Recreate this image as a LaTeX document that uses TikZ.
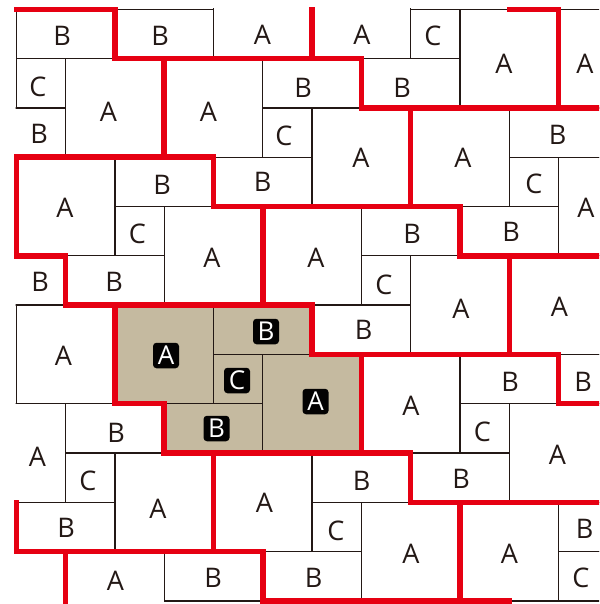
\documentclass[tikz,border=0pt]{standalone}
\usepackage{fontspec}
\setmainfont{Open Sans}
\definecolor{ink}{RGB}{35,24,21}
\definecolor{tkred}{RGB}{230,0,18}
\definecolor{tanfill}{RGB}{197,186,160}
\tikzset{
  cell/.style={draw=ink, line width=1.3pt},
  rline/.style={draw=tkred, line width=5.5pt, line cap=rect, line join=miter},
  lbl/.style={text=ink, inner sep=0pt, font=\fontsize{27}{27}\selectfont},
  tanlbl/.style={fill=black!92!ink, text=white, rounded corners=3.5pt, minimum width=26pt, minimum height=25.5pt, inner sep=0pt, font=\fontsize{26}{26}\selectfont}
}
\begin{document}
\begin{tikzpicture}[x=1pt,y=-1pt]
\useasboundingbox (0,0) rectangle (599,604);
\begin{scope}
\clip (13,6) rectangle (599,604);
\begin{scope}[xshift=16.3pt, yshift=-9.3pt, x=49.3pt, y=-49.3pt]
  \fill[tanfill] (2,6) -- (6,6) -- (6,7) -- (7,7) -- (7,9) -- (3,9) -- (3,8) -- (2,8) -- cycle;
  \begin{scope}
    \clip (-0.0135,-0.0135) rectangle (12.2,12.0135);
    \foreach \c/\r in {4/-1,6/-1,9/0,11/0,1/1,3/1,6/2,8/2,11/3,0/3,3/4,5/4,8/5,10/5,0/6,2/6,5/7,7/7,10/8,-1/8,2/9,4/9,7/10,9/10,1/11,-1/11}
      \draw[cell] (\c,\r) rectangle ++(2,2);
    \foreach \c/\r in {2/0,7/1,0/0,-1/2,5/1,4/3,10/2,9/4,2/3,1/5,7/4,6/6,11/7,-1/5,4/6,3/8,9/7,8/9,1/8,0/10,6/9,5/11,11/10,3/11}
      \draw[cell] (\c,\r) rectangle ++(2,1);
    \foreach \c/\r in {8/0,0/1,5/2,10/3,2/4,7/5,4/7,9/8,1/9,6/10,11/11}
      \draw[cell] (\c,\r) rectangle ++(1,1);
  \end{scope}
  \draw[rline] (0,0) -- (2,0) -- (2,1) -- (7,1) -- (7,2) -- (12,2);
  \draw[rline] (6,0) -- (6,1);
  \draw[rline] (10,0) -- (11,0) -- (11,2);
  \draw[rline] (3,1) -- (3,3);
  \draw[rline] (0,5) -- (0,3) -- (4,3) -- (4,4) -- (9,4) -- (9,5) -- (12,5);
  \draw[rline] (8,2) -- (8,4);
  \draw[rline] (5,4) -- (5,6);
  \draw[rline] (0,5) -- (1,5) -- (1,6) -- (6,6) -- (6,7) -- (11,7) -- (11,8) -- (12,8);
  \draw[rline] (10,5) -- (10,7);
  \draw[rline] (2,6) -- (2,8) -- (3,8) -- (3,9) -- (8,9) -- (8,10) -- (12,10);
  \draw[rline] (7,7) -- (7,9);
  \draw[rline] (9,10) -- (9,12);
  \draw[rline] (4,9) -- (4,11);
  \draw[rline] (0,10) -- (0,11) -- (5,11) -- (5,12) -- (10,12);
  \draw[rline] (1,11) -- (1,12);
\end{scope}
\end{scope}
% plain labels
\node[lbl] (n1) at (62,36) {B};
\node[lbl] (n2) at (160,36) {B};
\node[lbl] (n3) at (262.5,35) {A};
\node[lbl] (n4) at (362,35) {A};
\node[lbl] (n5) at (433,36) {C};
\node[lbl] (n6) at (504,64) {A};
\node[lbl] (n7) at (585,64) {A};
\node[lbl] (n8) at (38,87) {C};
\node[lbl] (n9) at (108.5,112) {A};
\node[lbl] (n10) at (208.5,112) {A};
\node[lbl] (n11) at (303,88) {B};
\node[lbl] (n12) at (402,88) {B};
\node[lbl] (n13) at (39,134) {B};
\node[lbl] (n14) at (284,136) {C};
\node[lbl] (n15) at (361,158) {A};
\node[lbl] (n16) at (463,158) {A};
\node[lbl] (n17) at (557.5,135) {B};
\node[lbl] (n18) at (65,208) {A};
\node[lbl] (n19) at (162,185) {B};
\node[lbl] (n20) at (262.5,182) {B};
\node[lbl] (n21) at (534,184) {C};
\node[lbl] (n22) at (586,208) {A};
\node[lbl] (n23) at (137.5,234) {C};
\node[lbl] (n24) at (212,258) {A};
\node[lbl] (n25) at (316,258) {A};
\node[lbl] (n26) at (412,234) {B};
\node[lbl] (n27) at (511,232) {B};
\node[lbl] (n28) at (40,282) {B};
\node[lbl] (n29) at (114,281.5) {B};
\node[lbl] (n30) at (384,285) {C};
\node[lbl] (n31) at (461,309) {A};
\node[lbl] (n32) at (559.5,306.5) {A};
\node[lbl] (n33) at (63.5,356) {A};
\node[lbl] (n34) at (363.5,330) {B};
\node[lbl] (n35) at (510,382) {B};
\node[lbl] (n36) at (583,382) {B};
\node[lbl] (n37) at (37.5,457) {A};
\node[lbl] (n38) at (116,433) {B};
\node[lbl] (n39) at (411,406) {A};
\node[lbl] (n40) at (482.5,432) {C};
\node[lbl] (n41) at (557.5,455) {A};
\node[lbl] (n42) at (88,481) {C};
\node[lbl] (n43) at (158,509) {A};
\node[lbl] (n44) at (264.5,503) {A};
\node[lbl] (n45) at (361.5,481) {B};
\node[lbl] (n46) at (461,479) {B};
\node[lbl] (n47) at (66,527.5) {B};
\node[lbl] (n48) at (336,531) {C};
\node[lbl] (n49) at (411,553.5) {A};
\node[lbl] (n50) at (509.5,553.5) {A};
\node[lbl] (n51) at (584.5,529) {B};
\node[lbl] (n52) at (115.5,580.5) {A};
\node[lbl] (n53) at (213,578) {B};
\node[lbl] (n54) at (313.5,578) {B};
\node[lbl] (n55) at (581,578) {C};
% highlighted labels
\node[tanlbl] (t1) at (166,355.5) {A};
\node[tanlbl] (t2) at (266,331.5) {B};
\node[tanlbl] (t3) at (237,380.5) {C};
\node[tanlbl] (t4) at (315.5,401.5) {A};
\node[tanlbl] (t5) at (216.5,428.5) {B};
\end{tikzpicture}
\end{document}
